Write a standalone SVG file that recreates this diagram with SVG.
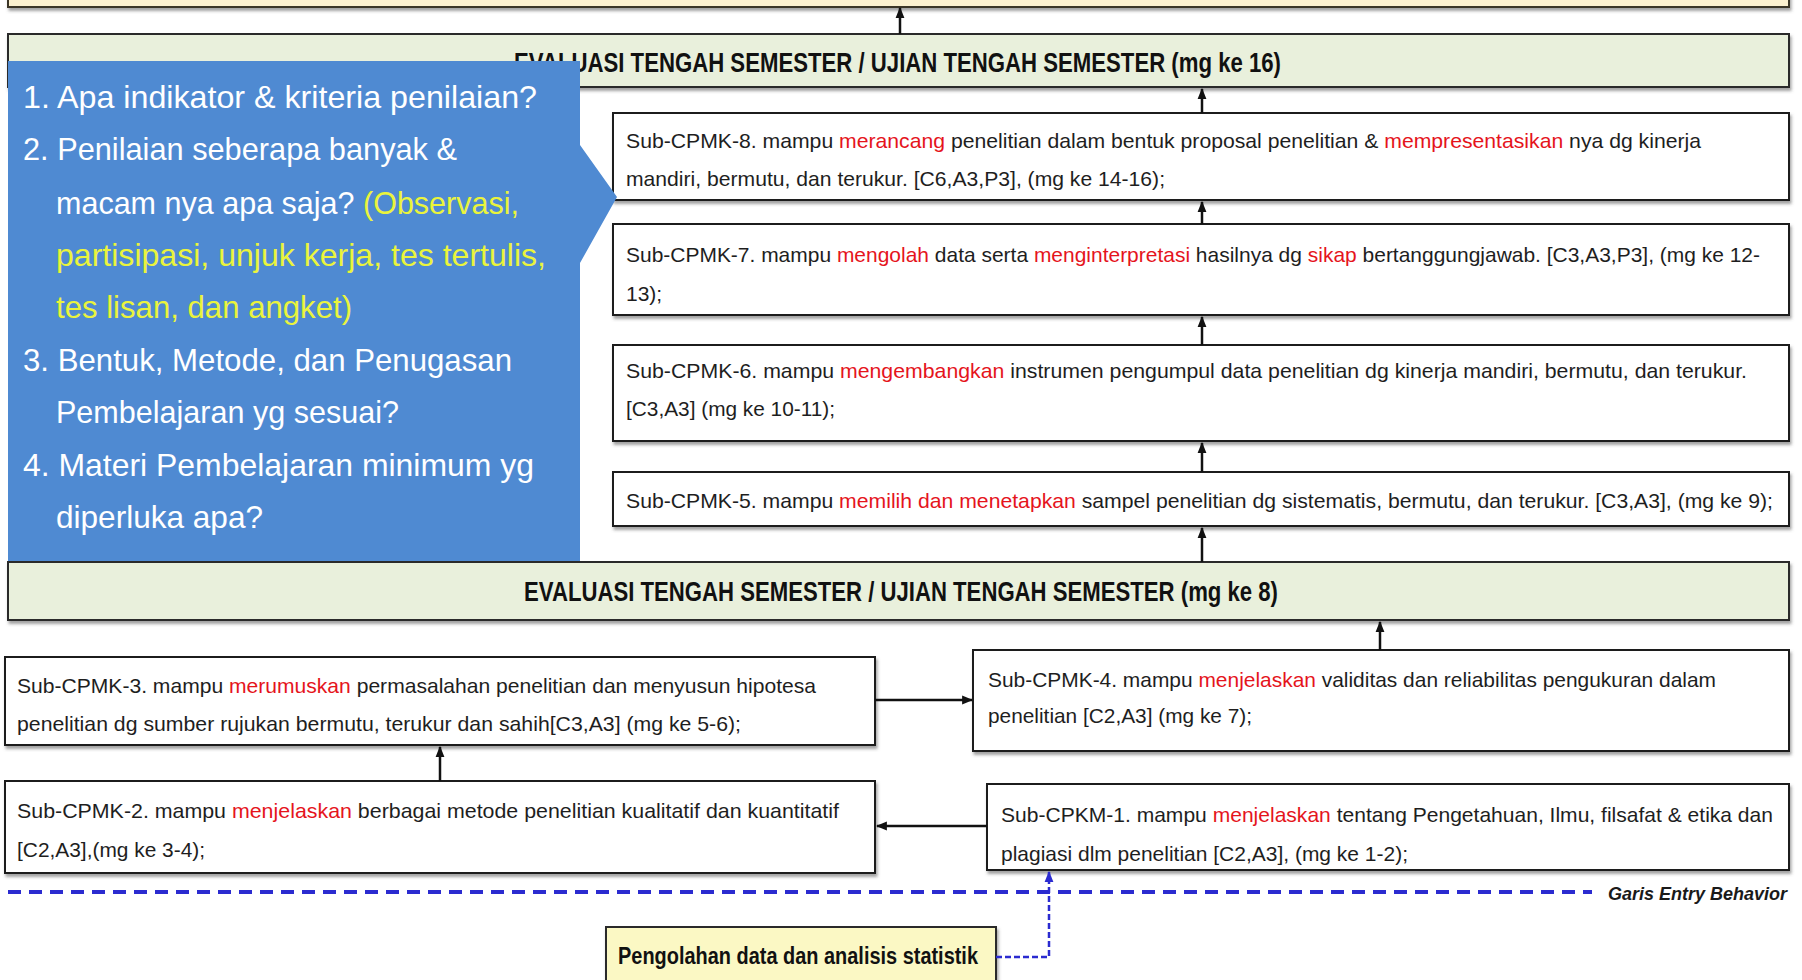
<svg xmlns="http://www.w3.org/2000/svg" width="1802" height="980" viewBox="0 0 1802 980">
<style>
.box{fill:#ffffff;stroke:#1e1e1e;stroke-width:2;filter:url(#sh)}
.hdr{fill:#e9f0dc;stroke:#2a2a2a;stroke-width:2;filter:url(#sh)}
.top{fill:#fcf1cf;stroke:#3a3528;stroke-width:2;filter:url(#sh)}
.note{fill:#fbf8c4;stroke:#2a2a2a;stroke-width:2;filter:url(#sh)}
.t{font-family:"Liberation Sans",Arial,sans-serif;font-size:21px;fill:#1e1e1e}
.r{fill:#e5141c}
.h{font-family:"Liberation Sans",Arial,sans-serif;font-weight:bold;font-size:28px;fill:#111}
.c{font-family:"Liberation Sans",Arial,sans-serif;font-size:32px;fill:#ffffff}
.y{fill:#eaf43c}
.conn{stroke:#111;stroke-width:2.5;fill:none;marker-end:url(#ah)}
.eb{stroke:#2b2bd0;stroke-width:4;stroke-dasharray:13 8;fill:none}
.bl{stroke:#2b2bd0;stroke-width:2.5;stroke-dasharray:6 3;fill:none;marker-end:url(#bh)}
</style>
<defs>
<filter id="sh" x="-5%" y="-20%" width="110%" height="150%">
<feDropShadow dx="1.5" dy="3" stdDeviation="1.5" flood-color="#555" flood-opacity="0.55"/>
</filter>
<marker id="ah" viewBox="0 0 10 10" refX="9" refY="5" markerWidth="11" markerHeight="11" markerUnits="userSpaceOnUse" orient="auto">
<path d="M0,1 L10,5 L0,9 z" fill="#111"/>
</marker>
<marker id="bh" viewBox="0 0 10 10" refX="9" refY="5" markerWidth="11" markerHeight="11" markerUnits="userSpaceOnUse" orient="auto">
<path d="M0,1 L10,5 L0,9 z" fill="#2b2bd0"/>
</marker>
</defs>
<rect width="1802" height="980" fill="#ffffff"/>

<g id="top-box"><rect class="top" x="8" y="-20" width="1781" height="27"/></g>

<g id="ets16">
<rect class="hdr" x="8" y="34" width="1781" height="53"/>
<text class="h" x="514" y="72" textLength="767" lengthAdjust="spacingAndGlyphs">EVALUASI TENGAH SEMESTER / UJIAN TENGAH SEMESTER (mg ke 16)</text>
</g>

<g id="cpmk8">
<rect class="box" x="613" y="113" width="1176" height="87"/>
<text class="t" x="626" y="148" textLength="1075" lengthAdjust="spacingAndGlyphs">Sub-CPMK-8. mampu <tspan class="r">merancang</tspan> penelitian dalam bentuk proposal penelitian &amp; <tspan class="r">mempresentasikan</tspan> nya dg kinerja</text>
<text class="t" x="626" y="186" textLength="539" lengthAdjust="spacingAndGlyphs">mandiri, bermutu, dan terukur. [C6,A3,P3], (mg ke 14-16);</text>
</g>

<g id="cpmk7">
<rect class="box" x="613" y="224" width="1176" height="91"/>
<text class="t" x="626" y="262" textLength="1134" lengthAdjust="spacingAndGlyphs">Sub-CPMK-7. mampu <tspan class="r">mengolah</tspan> data serta <tspan class="r">menginterpretasi</tspan> hasilnya dg <tspan class="r">sikap</tspan> bertanggungjawab. [C3,A3,P3], (mg ke 12-</text>
<text class="t" x="626" y="301">13);</text>
</g>

<g id="cpmk6">
<rect class="box" x="613" y="345" width="1176" height="96"/>
<text class="t" x="626" y="378" textLength="1121" lengthAdjust="spacingAndGlyphs">Sub-CPMK-6. mampu <tspan class="r">mengembangkan</tspan> instrumen pengumpul data penelitian dg kinerja mandiri, bermutu, dan terukur.</text>
<text class="t" x="626" y="416" textLength="209" lengthAdjust="spacingAndGlyphs">[C3,A3] (mg ke 10-11);</text>
</g>

<g id="cpmk5">
<rect class="box" x="613" y="472" width="1176" height="54"/>
<text class="t" x="626" y="508" textLength="1147" lengthAdjust="spacingAndGlyphs">Sub-CPMK-5. mampu <tspan class="r">memilih dan menetapkan</tspan> sampel penelitian dg sistematis, bermutu, dan terukur. [C3,A3], (mg ke 9);</text>
</g>

<g id="ets8">
<rect class="hdr" x="8" y="562" width="1781" height="58"/>
<text class="h" x="524" y="601" textLength="754" lengthAdjust="spacingAndGlyphs">EVALUASI TENGAH SEMESTER / UJIAN TENGAH SEMESTER (mg ke 8)</text>
</g>

<g id="cpmk4">
<rect class="box" x="973" y="650" width="816" height="101"/>
<text class="t" x="988" y="687" textLength="728" lengthAdjust="spacingAndGlyphs">Sub-CPMK-4. mampu <tspan class="r">menjelaskan</tspan> validitas dan reliabilitas pengukuran dalam</text>
<text class="t" x="988" y="723" textLength="264" lengthAdjust="spacingAndGlyphs">penelitian [C2,A3] (mg ke 7);</text>
</g>

<g id="cpmk3">
<rect class="box" x="5" y="657" width="870" height="88"/>
<text class="t" x="17" y="693" textLength="799" lengthAdjust="spacingAndGlyphs">Sub-CPMK-3. mampu <tspan class="r">merumuskan</tspan> permasalahan penelitian dan menyusun hipotesa</text>
<text class="t" x="17" y="731" textLength="724" lengthAdjust="spacingAndGlyphs">penelitian dg sumber rujukan bermutu, terukur dan sahih[C3,A3] (mg ke 5-6);</text>
</g>

<g id="cpmk2">
<rect class="box" x="5" y="781" width="870" height="92"/>
<text class="t" x="17" y="818" textLength="822" lengthAdjust="spacingAndGlyphs">Sub-CPMK-2. mampu <tspan class="r">menjelaskan</tspan> berbagai metode penelitian kualitatif dan kuantitatif</text>
<text class="t" x="17" y="857" textLength="188" lengthAdjust="spacingAndGlyphs">[C2,A3],(mg ke 3-4);</text>
</g>

<g id="cpkm1">
<rect class="box" x="987" y="784" width="802" height="86"/>
<text class="t" x="1001" y="822" textLength="772" lengthAdjust="spacingAndGlyphs">Sub-CPKM-1. mampu <tspan class="r">menjelaskan</tspan> tentang Pengetahuan, Ilmu, filsafat &amp; etika dan</text>
<text class="t" x="1001" y="861" textLength="407" lengthAdjust="spacingAndGlyphs">plagiasi dlm penelitian [C2,A3], (mg ke 1-2);</text>
</g>

<g id="prereq">
<rect class="note" x="606" y="927" width="390" height="70"/>
<text class="h" x="618" y="964" style="font-size:23px" textLength="360" lengthAdjust="spacingAndGlyphs">Pengolahan data dan analisis statistik</text>
</g>

<g id="entry-line">
<line class="eb" x1="8" y1="892" x2="1592" y2="892"/>
<text x="1608" y="900" style="font-family:'Liberation Sans',Arial,sans-serif;font-weight:bold;font-style:italic;font-size:18px;fill:#1a1a1a" textLength="179" lengthAdjust="spacingAndGlyphs">Garis Entry Behavior</text>
</g>

<g id="connectors">
<line class="conn" x1="900" y1="34" x2="900" y2="8"/>
<line class="conn" x1="1202" y1="113" x2="1202" y2="89"/>
<line class="conn" x1="1202" y1="224" x2="1202" y2="202"/>
<line class="conn" x1="1202" y1="345" x2="1202" y2="317"/>
<line class="conn" x1="1202" y1="472" x2="1202" y2="443"/>
<line class="conn" x1="1202" y1="562" x2="1202" y2="528"/>
<line class="conn" x1="1380" y1="650" x2="1380" y2="622"/>
<line class="conn" x1="875" y1="700" x2="972" y2="700"/>
<line class="conn" x1="440" y1="781" x2="440" y2="747"/>
<line class="conn" x1="987" y1="826" x2="877" y2="826"/>
<polyline class="bl" points="996,957 1049,957 1049,872"/>
</g>

<g id="callout">
<path d="M8,61 H580 V145 L617,197 L580,263 V561 H8 Z" fill="#4f8ad2"/>
<text class="c" x="23" y="108" textLength="514" lengthAdjust="spacingAndGlyphs">1. Apa indikator &amp; kriteria penilaian?</text>
<text class="c" x="23" y="160" textLength="434" lengthAdjust="spacingAndGlyphs">2. Penilaian seberapa banyak &amp;</text>
<text class="c" x="56" y="214" textLength="463" lengthAdjust="spacingAndGlyphs">macam nya apa saja? <tspan class="y">(Observasi,</tspan></text>
<text class="c y" x="56" y="266" textLength="490" lengthAdjust="spacingAndGlyphs">partisipasi, unjuk kerja, tes tertulis,</text>
<text class="c y" x="56" y="318" textLength="296" lengthAdjust="spacingAndGlyphs">tes lisan, dan angket)</text>
<text class="c" x="23" y="371" textLength="489" lengthAdjust="spacingAndGlyphs">3. Bentuk, Metode, dan Penugasan</text>
<text class="c" x="56" y="423" textLength="343" lengthAdjust="spacingAndGlyphs">Pembelajaran yg sesuai?</text>
<text class="c" x="23" y="476" textLength="511" lengthAdjust="spacingAndGlyphs">4. Materi Pembelajaran minimum yg</text>
<text class="c" x="56" y="528" textLength="207" lengthAdjust="spacingAndGlyphs">diperluka apa?</text>
</g>
</svg>
